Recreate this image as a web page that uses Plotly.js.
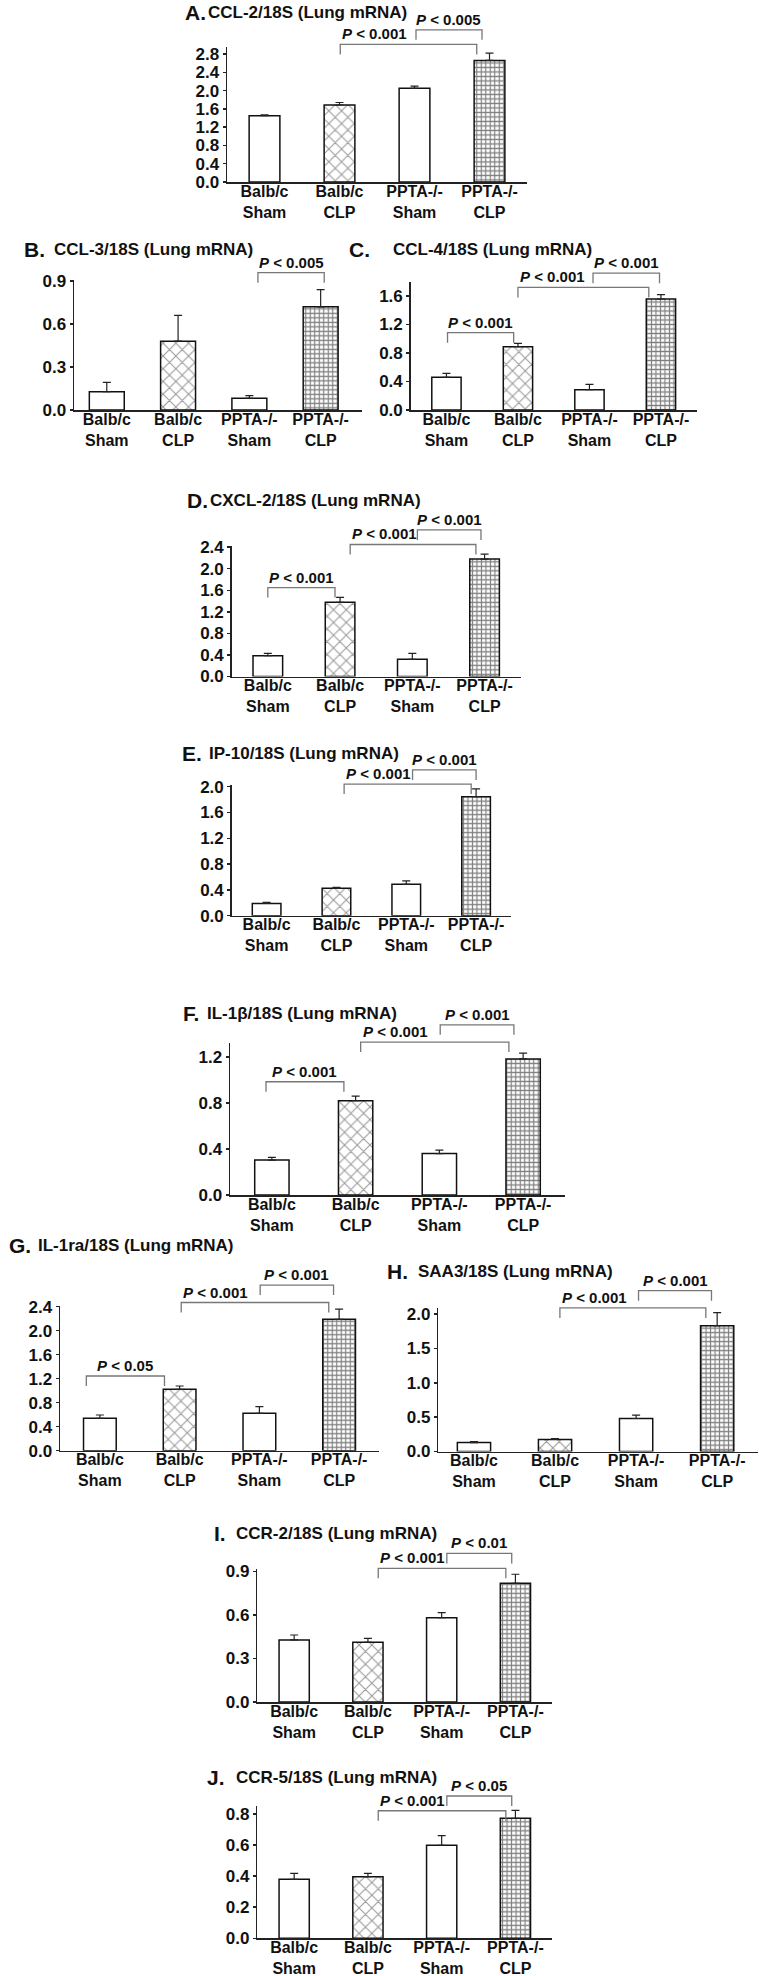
<!DOCTYPE html>
<html>
<head>
<meta charset="utf-8">
<script src="https://cdn.plot.ly/plotly-3.0.1.min.js"></script>
<style>
  html, body { margin: 0; padding: 0; background: #fff; }
  #fig { width: 759px; height: 1976px; }
</style>
</head>
<body>
<div id="fig"></div>
<script>
const W = 759, H = 1976;
const FONT = "Liberation Sans, Arial, sans-serif";

const groups = ["Balb/c<br>Sham", "Balb/c<br>CLP", "PPTA-/-<br>Sham", "PPTA-/-<br>CLP"];
const groupX = [0, 1, 2, 3];

// ------------------------------
// Data (mean, SEM, comparisons)
// ------------------------------

const ccl2 = [1.45, 1.685, 2.05, 2.66];
const ccl2Sem = [0.02, 0.055, 0.05, 0.16];
const ccl2Stats = [[1, 3, "P < 0.001"], [2, 3, "P < 0.005"]];

const ccl3 = [0.128, 0.48, 0.082, 0.72];
const ccl3Sem = [0.065, 0.18, 0.018, 0.12];
const ccl3Stats = [[2, 3, "P < 0.005"]];

const ccl4 = [0.459, 0.889, 0.285, 1.558];
const ccl4Sem = [0.056, 0.046, 0.075, 0.06];
const ccl4Stats = [[0, 1, "P < 0.001"], [1, 3, "P < 0.001"], [2, 3, "P < 0.001"]];

const cxcl2 = [0.386, 1.377, 0.319, 2.18];
const cxcl2Sem = [0.044, 0.093, 0.11, 0.09];
const cxcl2Stats = [[0, 1, "P < 0.001"], [1, 3, "P < 0.001"], [2, 3, "P < 0.001"]];

const ip10 = [0.19, 0.425, 0.487, 1.845];
const ip10Sem = [0.017, 0.015, 0.053, 0.12];
const ip10Stats = [[1, 3, "P < 0.001"], [2, 3, "P < 0.001"]];

const il1b = [0.304, 0.82, 0.36, 1.183];
const il1bSem = [0.024, 0.04, 0.03, 0.05];
const il1bStats = [[0, 1, "P < 0.001"], [1, 3, "P < 0.001"], [2, 3, "P < 0.001"]];

const il1ra = [0.54, 1.023, 0.623, 2.19];
const il1raSem = [0.055, 0.055, 0.11, 0.17];
const il1raStats = [[0, 1, "P < 0.05"], [1, 3, "P < 0.001"], [2, 3, "P < 0.001"]];

const saa3 = [0.13, 0.176, 0.48, 1.83];
const saa3Sem = [0.015, 0.01, 0.05, 0.19];
const saa3Stats = [[1, 3, "P < 0.001"], [2, 3, "P < 0.001"]];

const ccr2 = [0.428, 0.412, 0.581, 0.819];
const ccr2Sem = [0.034, 0.027, 0.035, 0.062];
const ccr2Stats = [[1, 3, "P < 0.001"], [2, 3, "P < 0.01"]];

const ccr5 = [0.379, 0.396, 0.598, 0.772];
const ccr5Sem = [0.039, 0.022, 0.062, 0.05];
const ccr5Stats = [[1, 3, "P < 0.001"], [2, 3, "P < 0.05"]];

// ------------------------------
// Panel layout (pixel boxes, bracket geometry)
// ------------------------------

const panels = [
  { letter: "A.", name: "CCL-2/18S (Lung mRNA)", y: ccl2, sem: ccl2Sem, stats: ccl2Stats,
    box: [227, 527, 47.2, 182], yMax: 2.95, dtick: 0.4, xr: [-0.5, 3.5], bw: 0.41,
    br: [[1.01, 2.83, 3.01], [2.02, 2.9, 3.33]], lx: 183, tx: 206, ty: 13 },
  { letter: "B.", name: "CCL-3/18S (Lung mRNA)", y: ccl3, sem: ccl3Sem, stats: ccl3Stats,
    box: [74, 362, 279.6, 410], yMax: 0.91, dtick: 0.3, xr: [-0.46, 3.58], bw: 0.49,
    br: [[2.12, 3.05, 0.958]], lx: 21.7, tx: 51.7, ty: 249 },
  { letter: "C.", name: "CCL-4/18S (Lung mRNA)", y: ccl4, sem: ccl4Sem, stats: ccl4Stats,
    box: [410.7, 696.7, 281.75, 410], yMax: 1.8, dtick: 0.4, xr: [-0.5, 3.5], bw: 0.41,
    br: [[0.015, 0.94, 1.085], [1.0, 2.83, 1.72], [2.05, 2.98, 1.92]], lx: 347, tx: 390.7, ty: 249 },
  { letter: "D.", name: "CXCL-2/18S (Lung mRNA)", y: cxcl2, sem: cxcl2Sem, stats: cxcl2Stats,
    box: [231.7, 520.7, 546.1, 676.5], yMax: 2.42, dtick: 0.4, xr: [-0.5, 3.5], bw: 0.41,
    br: [[0, 0.93, 1.65], [1.14, 2.88, 2.45], [2.07, 2.95, 2.72]], lx: 185, tx: 208.3, ty: 500 },
  { letter: "E.", name: "IP-10/18S (Lung mRNA)", y: ip10, sem: ip10Sem, stats: ip10Stats,
    box: [231.7, 511, 785.4, 915.7], yMax: 2.02, dtick: 0.4, xr: [-0.5, 3.5], bw: 0.41,
    br: [[1.11, 2.93, 2.04], [2.09, 3.0, 2.26]], lx: 180, tx: 206.7, ty: 753.3 },
  { letter: "F.", name: "IL-1β/18S (Lung mRNA)", y: il1b, sem: il1bSem, stats: il1bStats,
    box: [230, 565, 1043.2, 1195], yMax: 1.32, dtick: 0.4, xr: [-0.5, 3.5], bw: 0.41,
    br: [[-0.07, 0.86, 0.985], [1.06, 2.83, 1.33], [2.01, 2.89, 1.48]], lx: 181, tx: 205, ty: 1013.3 },
  { letter: "G.", name: "IL-1ra/18S (Lung mRNA)", y: il1ra, sem: il1raSem, stats: il1raStats,
    box: [60, 379, 1305.5, 1450.7], yMax: 2.42, dtick: 0.4, xr: [-0.5, 3.5], bw: 0.41,
    br: [[-0.17, 0.81, 1.245], [1.02, 2.87, 2.47], [2.01, 2.93, 2.76]], lx: 7, tx: 36, ty: 1245 },
  { letter: "H.", name: "SAA3/18S (Lung mRNA)", y: saa3, sem: saa3Sem, stats: saa3Stats,
    box: [438.3, 757.7, 1307.9, 1451.5], yMax: 2.09, dtick: 0.5, xr: [-0.44, 3.5], bw: 0.41,
    br: [[1.06, 2.86, 2.09], [2.03, 2.93, 2.34]], lx: 385, tx: 416, ty: 1271.7 },
  { letter: "I.", name: "CCR-2/18S (Lung mRNA)", y: ccr2, sem: ccr2Sem, stats: ccr2Stats,
    box: [257.3, 552.3, 1568.6, 1702], yMax: 0.92, dtick: 0.3, xr: [-0.5, 3.5], bw: 0.41,
    br: [[1.14, 2.87, 0.922], [2.07, 2.95, 1.025]], lx: 211.7, tx: 234.3, ty: 1533.3 },
  { letter: "J.", name: "CCR-5/18S (Lung mRNA)", y: ccr5, sem: ccr5Sem, stats: ccr5Stats,
    box: [257.3, 552.3, 1806.1, 1938.3], yMax: 0.85, dtick: 0.2, xr: [-0.5, 3.5], bw: 0.41,
    br: [[1.14, 2.87, 0.82], [2.07, 2.95, 0.915]], lx: 205, tx: 234.3, ty: 1777.3 },
];

// ------------------------------
// Build figure
// ------------------------------

function pLabel(s) {
  return s.replace("<", "&lt;").replace(/^P /, "<i>P</i> ");
}

const traces = [];
const shapes = [];
const annotations = [];
const layout = {
  width: W,
  height: H,
  margin: { t: 0, l: 0, r: 0, b: 0 },
  paper_bgcolor: "#ffffff",
  plot_bgcolor: "rgba(0,0,0,0)",
  font: { family: FONT, color: "#111" },
  showlegend: false,
  bargap: 0,
};

panels.forEach((p, i) => {
  const n = i === 0 ? "" : String(i + 1);
  const [left, right, top, bottom] = p.box;

  // brackets sit above the y range, so map them to paper coords
  const px = x => (left + (x - p.xr[0]) / (p.xr[1] - p.xr[0]) * (right - left)) / W;
  const py = v => 1 - (bottom - v / p.yMax * (bottom - top)) / H;

  traces.push({
    type: "bar",
    x: groupX,
    y: p.y,
    width: p.bw,
    xaxis: "x" + n,
    yaxis: "y" + n,
    hoverinfo: "skip",
    marker: {
      color: "#ffffff",
      line: { color: "#111", width: 1.5 },
      pattern: {
        shape: ["", "x", "", "+"],
        fgcolor: ["#ffffff", "#333333", "#ffffff", "#000000"],
        bgcolor: "#ffffff",
        size: [8, 9, 8, 4.5],
        solidity: [0.1, 0.22, 0.1, 0.45],
        fillmode: "overlay",
      },
    },
    error_y: {
      type: "data",
      symmetric: false,
      array: p.sem,
      arrayminus: p.y.map(() => 0),
      color: "#222",
      thickness: 1.2,
      width: 4,
    },
  });

  layout["xaxis" + n] = {
    domain: [left / W, right / W],
    anchor: "y" + n,
    range: p.xr,
    tickmode: "array",
    tickvals: groupX,
    ticktext: groups,
    ticks: "",
    ticklabelstandoff: -6,
    showline: true,
    linecolor: "#222",
    linewidth: 1.5,
    showgrid: false,
    zeroline: false,
    fixedrange: true,
    tickfont: { family: FONT, size: 16, weight: "bold", color: "#111" },
  };

  layout["yaxis" + n] = {
    domain: [1 - bottom / H, 1 - top / H],
    anchor: "x" + n,
    range: [0, p.yMax],
    tick0: 0,
    dtick: p.dtick,
    tickformat: ".1f",
    ticks: "outside",
    ticklen: 3,
    tickwidth: 1.5,
    tickcolor: "#222",
    showline: true,
    linecolor: "#222",
    linewidth: 1.5,
    showgrid: false,
    zeroline: false,
    fixedrange: true,
    tickfont: { family: FONT, size: 17, weight: "bold", color: "#111" },
  };

  // significance brackets
  const leg = 10 * p.yMax / (bottom - top);
  p.stats.forEach((s, k) => {
    const [x1, x2, yTop] = p.br[k];
    shapes.push({
      type: "path",
      xref: "paper",
      yref: "paper",
      path: `M ${px(x1)},${py(yTop - leg)} L ${px(x1)},${py(yTop)} L ${px(x2)},${py(yTop)} L ${px(x2)},${py(yTop - leg)}`,
      line: { color: "#777", width: 1.3 },
    });
    const long = (x2 - x1) > 1.4;
    annotations.push({
      xref: "paper",
      yref: "paper",
      x: px(long ? x1 : (x1 + x2) / 2),
      y: py(yTop),
      xanchor: long ? "left" : "center",
      yanchor: "bottom",
      showarrow: false,
      text: pLabel(s[2]),
      font: { family: FONT, size: 15, weight: "bold", color: "#111" },
    });
  });

  // panel title
  annotations.push({
    xref: "paper", yref: "paper",
    x: p.lx / W, y: 1 - p.ty / H,
    xanchor: "left", yanchor: "middle",
    showarrow: false,
    text: p.letter,
    font: { family: FONT, size: 21, weight: "bold", color: "#111" },
  });
  annotations.push({
    xref: "paper", yref: "paper",
    x: p.tx / W, y: 1 - p.ty / H,
    xanchor: "left", yanchor: "middle",
    showarrow: false,
    text: p.name,
    font: { family: FONT, size: 17, weight: "bold", color: "#111" },
  });
});

layout.shapes = shapes;
layout.annotations = annotations;

Plotly.newPlot("fig", traces, layout, { displayModeBar: false, staticPlot: true });
</script>
</body>
</html>
